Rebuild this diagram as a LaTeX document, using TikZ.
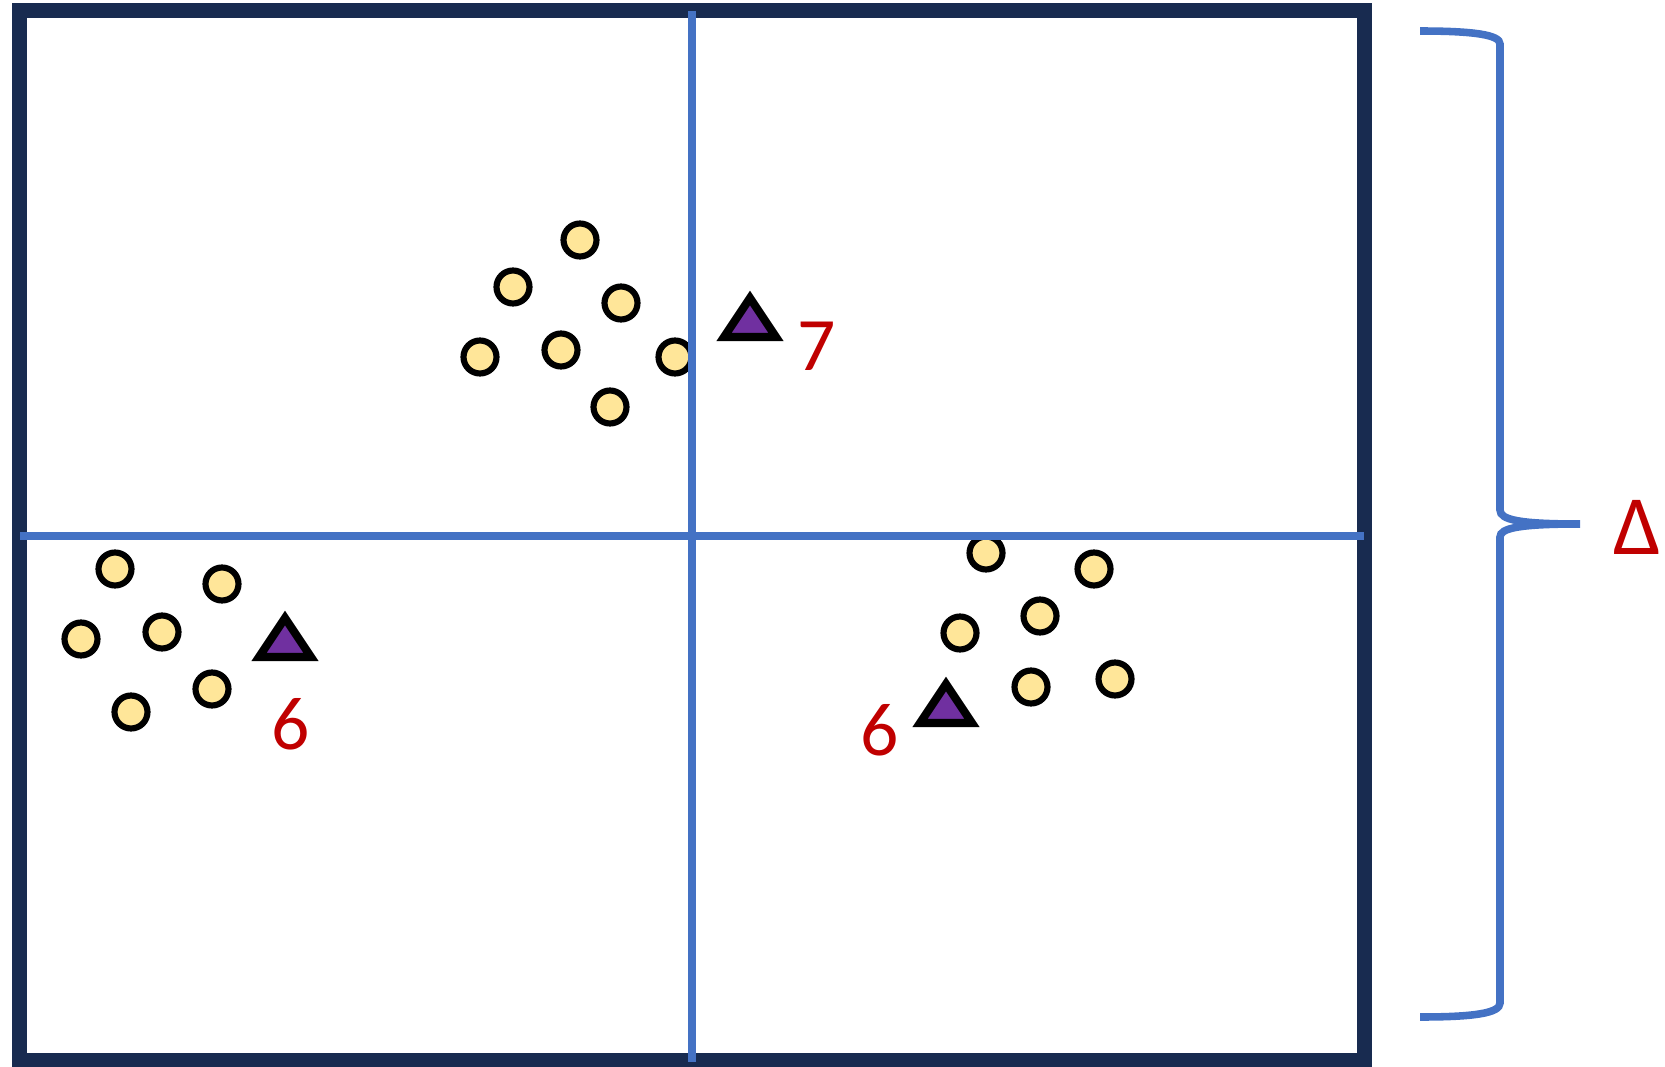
\documentclass[tikz,border=0pt]{standalone}
\usepackage{fontspec}
\setmainfont{Carlito}
\usetikzlibrary{calc}
\definecolor{framenavy}{RGB}{24,43,80}
\definecolor{splitblue}{RGB}{68,114,196}
\definecolor{dotyellow}{RGB}{255,230,153}
\definecolor{markpurple}{RGB}{112,48,160}
\definecolor{countred}{RGB}{192,0,0}

\begin{document}
\begin{tikzpicture}[x=0.02cm, y=-0.02cm,
  dot/.style={circle, draw=black, fill=dotyellow, line width=3.5pt,
    minimum size=0.66cm, inner sep=0pt},
  tri/.style={draw=black, fill=markpurple, line width=4.6pt, line join=miter},
  split/.style={draw=splitblue, line width=4.8pt},
  count/.style={text=countred, font=\fontsize{43}{45}\selectfont, inner sep=0pt}
]
\useasboundingbox (0,0) rectangle (1665,1067);

\draw[framenavy, line width=9pt] (19.5,10.5) rectangle (1364.5,1060.5);

% top cluster
\node[dot] (t1) at (580,240) {};
\node[dot] (t2) at (513,287) {};
\node[dot] (t3) at (621,303) {};
\node[dot] (t4) at (480,357) {};
\node[dot] (t5) at (561,350) {};
\node[dot] (t6) at (675,357) {};
\node[dot] (t7) at (610,407) {};
\coordinate (T) at (750,320);
\draw[tri] ($(T)+(0,-22)$) -- ($(T)+(26,17)$) -- ($(T)+(-26,17)$) -- cycle;
\node[count] (nT) at (817,346) {7};

% left cluster
\node[dot] (l1) at (115,569) {};
\node[dot] (l2) at (222,584) {};
\node[dot] (l3) at (81,639) {};
\node[dot] (l4) at (162,632) {};
\node[dot] (l5) at (212,689) {};
\node[dot] (l6) at (131,712) {};
\coordinate (L) at (285,640);
\draw[tri] ($(L)+(0,-22)$) -- ($(L)+(26,17)$) -- ($(L)+(-26,17)$) -- cycle;
\node[count] (nL) at (291,724) {6};

% right cluster
\node[dot] (r1) at (986,553) {};
\node[dot] (r2) at (1094,569) {};
\node[dot] (r3) at (1040,616) {};
\node[dot] (r4) at (960,633) {};
\node[dot] (r5) at (1031,687) {};
\node[dot] (r6) at (1115,679) {};
\coordinate (R) at (946,706);
\draw[tri] ($(R)+(0,-22)$) -- ($(R)+(26,17)$) -- ($(R)+(-26,17)$) -- cycle;
\node[count] (nR) at (880,730) {6};

% split lines
\draw[split] (692,11) -- (692,1062);
\draw[split] (20,536) -- (1364,536);

% brace
\draw[splitblue, line width=4.3pt]
  (1420,31) .. controls (1475,31) and (1500,35) .. (1500,44) -- (1500,510)
  .. controls (1500,520) and (1520,524) .. (1580,524)
  .. controls (1520,524) and (1500,528) .. (1500,537) -- (1500,1003)
  .. controls (1500,1013) and (1475,1017) .. (1420,1017);
\node[count, font=\fontsize{48}{50}\selectfont] (delta) at (1637,527) {Δ};
\end{tikzpicture}
\end{document}
